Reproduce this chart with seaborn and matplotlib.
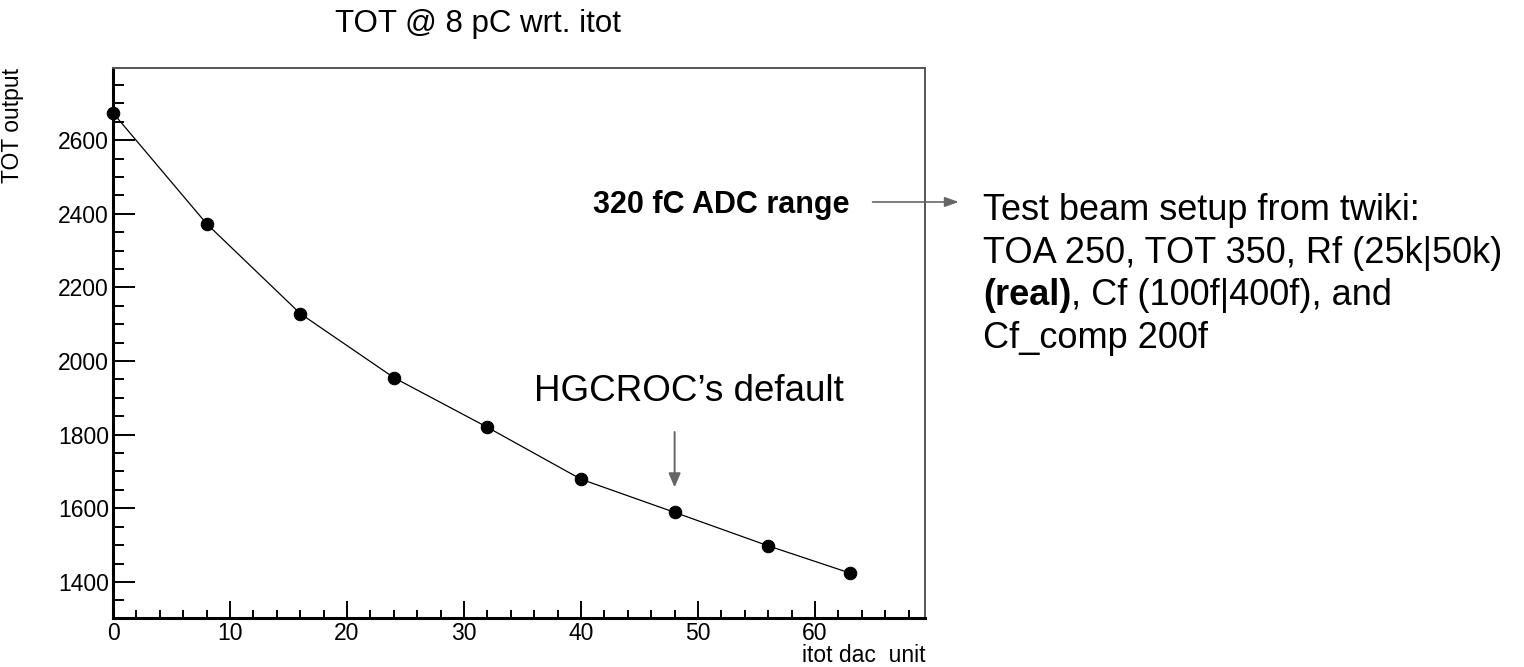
import pandas as pd
import matplotlib
matplotlib.use("Agg")
import matplotlib.pyplot as plt
from matplotlib.ticker import MultipleLocator
import seaborn as sns

# itot DAC scan, TOT at 8 pC
itot_dac = [0, 8, 16, 24, 32, 40, 48, 56, 63]
tot_output = [2674, 2373, 2129, 1955, 1820, 1679, 1589, 1498, 1424]

title = "TOT @ 8 pC wrt. itot"
xlabel = "itot dac  unit"
ylabel = "TOT output"
adc_label = "320 fC ADC range"
default_label = "HGCROC\u2019s default"
default_dac = 48
setup_lines = ["Test beam setup from twiki:",
               "TOA 250, TOT 350, Rf (25k|50k)",
               ("(real)", ", Cf (100f|400f), and"),
               "Cf_comp 200f"]

df = pd.DataFrame({"itot": itot_dac, "tot": tot_output})

sns.set_theme(style="ticks")
plt.rcParams["font.family"] = ["Liberation Sans", "DejaVu Sans"]
plt.rcParams["text.color"] = "black"
plt.rcParams["axes.labelcolor"] = "black"
plt.rcParams["xtick.color"] = "black"
plt.rcParams["ytick.color"] = "black"

fig = plt.figure(figsize=(15.24, 6.67), dpi=100)
ax = fig.add_axes([113 / 1524, 1 - 618 / 667, 812 / 1524, 550 / 667])

sns.lineplot(data=df, x="itot", y="tot", ax=ax, color="black", linewidth=0.9,
             marker="o", markersize=9, markeredgecolor="black", zorder=5)
for l in ax.lines:
    l.set_clip_on(False)

ax.set_xlim(0, 69.4)
ax.set_ylim(1302, 2796)
ax.xaxis.set_major_locator(MultipleLocator(10))
ax.xaxis.set_minor_locator(MultipleLocator(2))
ax.yaxis.set_major_locator(MultipleLocator(200))
ax.yaxis.set_minor_locator(MultipleLocator(50))
ax.tick_params(which="both", direction="in", top=False, right=False,
               width=1.4, color="black", labelsize=16.5, labelcolor="black")
ax.tick_params(axis="y", which="major", length=16, pad=3)
ax.tick_params(axis="y", which="minor", length=8)
ax.tick_params(axis="x", which="major", length=12, pad=3)
ax.tick_params(axis="x", which="minor", length=6)

for side in ["left", "bottom"]:
    ax.spines[side].set_linewidth(2.2)
    ax.spines[side].set_color("black")
for side in ["top", "right"]:
    ax.spines[side].set_linewidth(1.4)
    ax.spines[side].set_color("#555555")

ax.set_xlabel(xlabel, fontsize=16.5, loc="right")
ax.xaxis.set_label_coords(1.0, -0.08)
ax.xaxis.label.set_va("baseline")
ax.set_ylabel(ylabel, fontsize=16.5, loc="top")
ax.yaxis.set_label_coords(-0.1096, 1.0)

fig.text(478 / 1524, 1 - 32 / 667, title, fontsize=22.5, ha="center", va="baseline")

# arrow pointing at the default setting
y_def = tot_output[itot_dac.index(default_dac)]
ax.annotate("", xy=(default_dac, y_def), xycoords="data",
            xytext=(default_dac, y_def + 80 / 0.3667), textcoords="data",
            arrowprops=dict(arrowstyle="-|>,head_length=0.7,head_width=0.3",
                            color="#666666", lw=1.4, shrinkA=0, shrinkB=18))
ax.annotate(default_label, xy=(default_dac, y_def), xycoords="data",
            xytext=(10, 80), textcoords="offset points",
            fontsize=26.5, ha="center", va="baseline")

# ADC range label and arrow to setup text
ax.text(0.9076, 0.736, adc_label, transform=ax.transAxes, fontsize=22,
        fontweight="bold", ha="right", va="baseline")
ax.annotate("", xy=(1.045, 0.7564), xycoords="axes fraction",
            xytext=(0.932, 0.7564), textcoords="axes fraction",
            arrowprops=dict(arrowstyle="-|>,head_length=0.7,head_width=0.25",
                            color="#666666", lw=1.2),
            annotation_clip=False)

x0 = (983 - 113) / 812
for i, ln in enumerate(setup_lines):
    y = (618 - 220 - 42.7 * i) / 550
    if isinstance(ln, tuple):
        tb = ax.text(x0, y, ln[0], transform=ax.transAxes, fontsize=26,
                     fontweight="bold", ha="left", va="baseline")
        ax.annotate(ln[1], xy=(1, 0), xycoords=tb, fontsize=26,
                    ha="left", va="bottom", annotation_clip=False)
    else:
        ax.text(x0, y, ln, transform=ax.transAxes, fontsize=26,
                ha="left", va="baseline")

fig.savefig("out.png", dpi=100)
